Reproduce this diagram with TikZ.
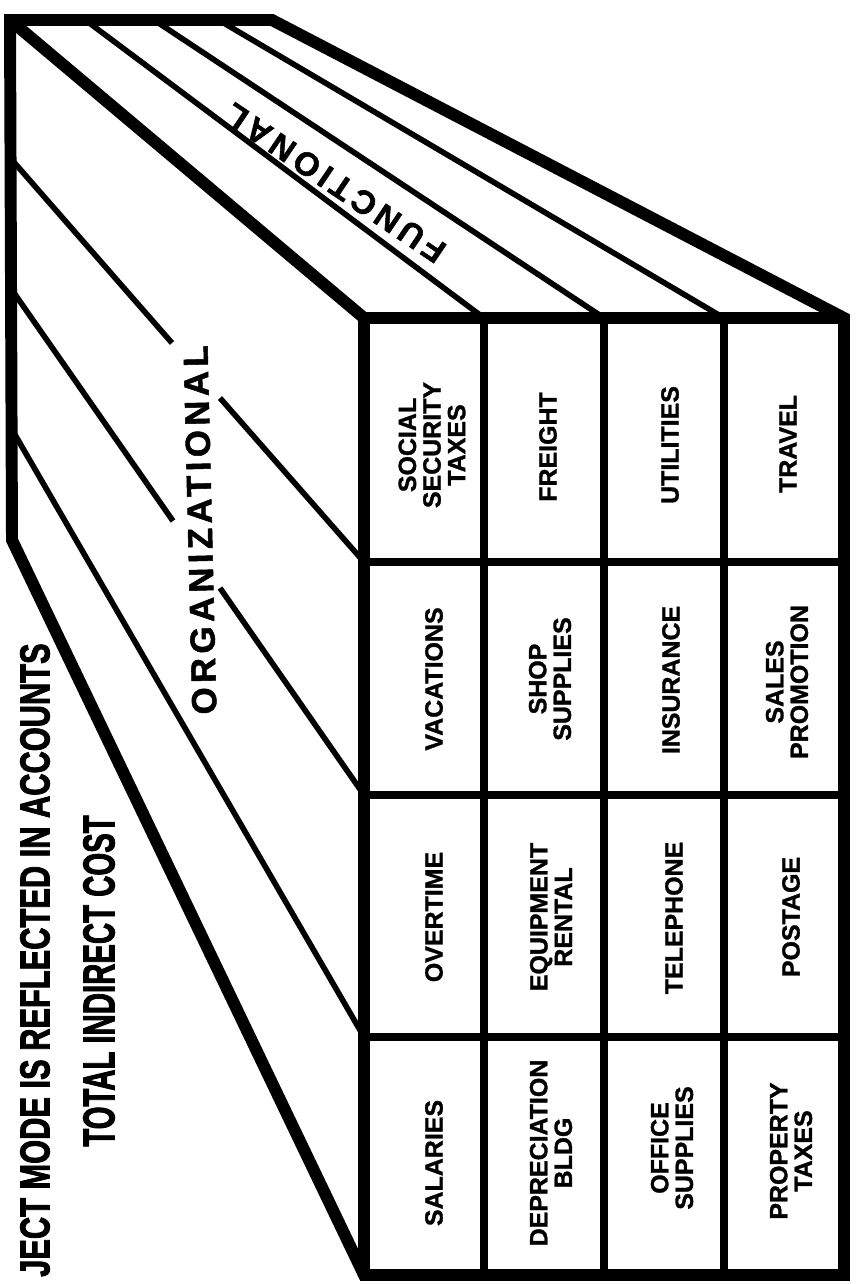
\documentclass[tikz,border=0pt]{standalone}
\usepackage{fontspec}
\setmainfont{Liberation Sans}[BoldFeatures={FakeBold=1.2}]
\newfontfamily\spacedfont{Liberation Sans}[LetterSpace=12.5,BoldFeatures={FakeBold=1.5}]
\newfontfamily\widefont{Liberation Sans}[LetterSpace=15,BoldFeatures={FakeBold=1.5}]
\newfontfamily\heavyfont{Liberation Sans}[BoldFeatures={FakeBold=2.5}]
\tikzset{
    outline/.style={line width=6.8pt,line join=miter},
    gridline/.style={line width=4.5pt},
    stripe/.style={line width=3.2pt},
    cell/.style={rotate=90,align=center,inner sep=0pt,
        font=\fontsize{14.2}{14}\selectfont\bfseries},
    heading/.style={rotate=90,inner sep=0pt},
}

\begin{document}
\begin{tikzpicture}[x=0.02cm,y=-0.02cm]
    \useasboundingbox (0,0) rectangle (855,1284);
    \clip (0,0) rectangle (855,1284);

    \coordinate (tl) at (10,20);
    \coordinate (tr) at (272,20);
    \coordinate (bl) at (12,540);
    \coordinate (ftl) at (364,318);
    \coordinate (ftr) at (844,318);
    \coordinate (fbr) at (844,1275);
    \coordinate (fbl) at (364,1275);

    % top face
    \draw[stripe] (88,22) -- (484,318);
    \draw[stripe] (157,22) -- (604,318);
    \draw[stripe] (222,22) -- (724,318);
    % side face, broken round the label
    \draw[stripe] (12,160) -- (172,343) (220,398) -- (364,562);
    \draw[stripe] (12,290) -- (173,521) (220,588) -- (364,795);
    \draw[stripe] (14,433) -- (364,1037);

    \foreach \x in {484,604,724}
        \draw[gridline] (\x,318) -- (\x,1275);
    \foreach \y in {562,795,1037}
        \draw[gridline] (364,\y) -- (844,\y);

    \draw[outline] (tl) -- (tr) -- (ftr) -- (fbr) -- (fbl) -- (bl) -- cycle;
    \draw[outline] (tl) -- (ftl) -- (ftr) (ftl) -- (fbl);

    \node[rotate=146,inner sep=0pt,font=\widefont\fontsize{18.7}{19}\selectfont\bfseries]
        (func) at (335,183) {FUNCTIONAL};
    \node[rotate=91.4,inner sep=0pt,font=\spacedfont\fontsize{19.8}{20}\selectfont\bfseries]
        (org) at (200,530) {ORGANIZATIONAL};

    \node[heading,anchor=east,font=\heavyfont\fontsize{23.7}{24}\selectfont\bfseries]
        (accounts) at (35,643) {\scalebox{0.74}[1]{JECT MODE IS REFLECTED IN ACCOUNTS}};
    \node[heading,font=\heavyfont\fontsize{25.3}{25}\selectfont\bfseries]
        (total) at (99,981) {\scalebox{0.66}[1]{TOTAL INDIRECT COST}};

    \node[cell] (social) at (432,445) {SOCIAL\\SECURITY\\TAXES};
    \node[cell] (vacations) at (434,679) {VACATIONS};
    \node[cell] (overtime) at (434,917) {OVERTIME};
    \node[cell] (salaries) at (434,1163) {SALARIES};

    \node[cell] (freight) at (548,447) {FREIGHT};
    \node[cell] (shop) at (550,679) {SHOP\\SUPPLIES};
    \node[cell] (equipment) at (551,917) {EQUIPMENT\\RENTAL};
    \node[cell] (depreciation) at (551,1153) {DEPRECIATION\\BLDG};

    \node[cell] (utilities) at (670,445) {UTILITIES};
    \node[cell] (insurance) at (671,680) {INSURANCE};
    \node[cell] (telephone) at (674,918) {TELEPHONE};
    \node[cell] (office) at (672,1148) {OFFICE\\SUPPLIES};

    \node[cell] (travel) at (788,444) {TRAVEL};
    \node[cell] (promotion) at (787,682) {SALES\\PROMOTION};
    \node[cell] (postage) at (791,917) {POSTAGE};
    \node[cell] (property) at (791,1151) {PROPERTY\\TAXES};
\end{tikzpicture}
\end{document}
